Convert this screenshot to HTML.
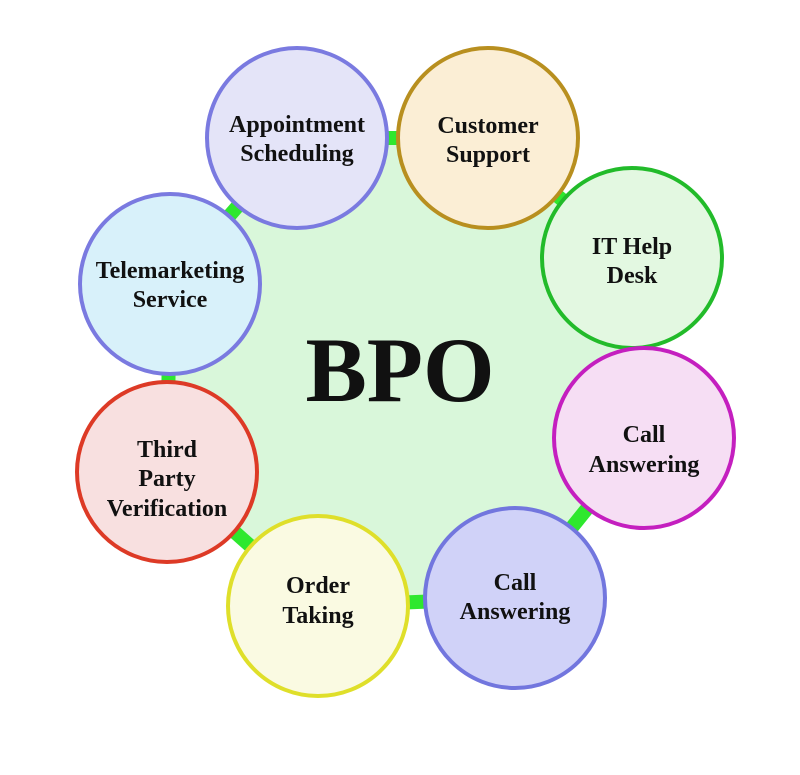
<!DOCTYPE html>
<html><head><meta charset="utf-8"><style>
html,body{margin:0;padding:0;background:#fff;}
svg{display:block;}
text{font-family:"Liberation Serif",serif;font-weight:bold;text-anchor:middle;fill:#111;}
.t{font-size:24px;}
</style></head><body>
<svg width="800" height="775" viewBox="0 0 800 775" xmlns="http://www.w3.org/2000/svg">
<polygon points="297,138 488,138 632,258 644,438 515,598 318,606 167,472 170,284" fill="#d9f7da" stroke="#2ee82e" stroke-width="14" stroke-linejoin="round"/>
<circle cx="297" cy="138" r="90" fill="#e4e4f8" stroke="#7a7ae0" stroke-width="4"/>
<circle cx="488" cy="138" r="90" fill="#fbeed5" stroke="#b88f1f" stroke-width="4"/>
<circle cx="632" cy="258" r="90" fill="#e3f8e1" stroke="#22bb2a" stroke-width="4"/>
<circle cx="644" cy="438" r="90" fill="#f6def4" stroke="#c41fbf" stroke-width="4"/>
<circle cx="515" cy="598" r="90" fill="#d0d2f8" stroke="#7276de" stroke-width="4"/>
<circle cx="318" cy="606" r="90" fill="#fafae2" stroke="#dfdf2a" stroke-width="4"/>
<circle cx="167" cy="472" r="90" fill="#f8e0e0" stroke="#dd3a26" stroke-width="4"/>
<circle cx="170" cy="284" r="90" fill="#d8f1fa" stroke="#7a7ae0" stroke-width="4"/>
<text x="400" y="401" style="font-size:92px">BPO</text>
<text class="t" x="297" y="132">Appointment</text>
<text class="t" x="297" y="161">Scheduling</text>
<text class="t" x="488" y="133">Customer</text>
<text class="t" x="488" y="162">Support</text>
<text class="t" x="632" y="254">IT Help</text>
<text class="t" x="632" y="283">Desk</text>
<text class="t" x="644" y="442">Call</text>
<text class="t" x="644" y="472">Answering</text>
<text class="t" x="515" y="590">Call</text>
<text class="t" x="515" y="619">Answering</text>
<text class="t" x="318" y="593">Order</text>
<text class="t" x="318" y="623">Taking</text>
<text class="t" x="167" y="457">Third</text>
<text class="t" x="167" y="486">Party</text>
<text class="t" x="167" y="516">Verification</text>
<text class="t" x="170" y="278">Telemarketing</text>
<text class="t" x="170" y="307">Service</text>
</svg>
</body></html>
